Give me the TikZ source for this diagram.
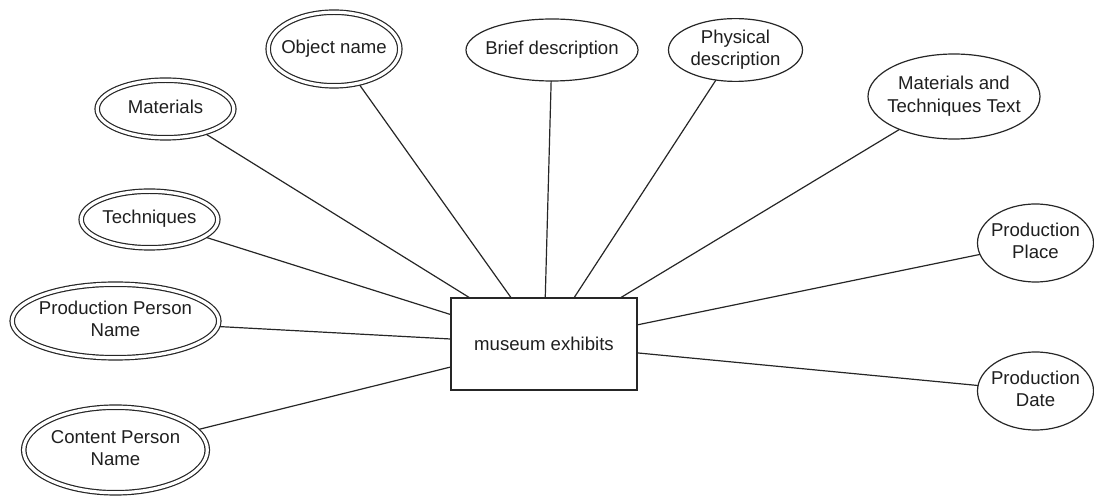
\documentclass[tikz,border=0pt]{standalone}
\usepackage{fontspec}
\setmainfont{Liberation Sans}
\usetikzlibrary{shapes.geometric}
% centred text that does not widen the shape around it
\newcommand{\ertext}[1]{\makebox[0pt]{\begin{tabular}{@{}c@{}}#1\end{tabular}}}
\begin{document}
\begin{tikzpicture}[x=0.5pt,y=-0.5pt,
  every node/.style={font=\fontsize{9.3}{11.1}\selectfont, text=black!88},
  entity/.style={draw=black!85, line width=0.6pt, rectangle, inner sep=0pt, outer sep=0pt,
    minimum width=93pt, minimum height=46pt},
  attr/.style={draw=black!85, line width=0.6pt, ellipse, inner sep=0pt, outer sep=0pt},
  multiattr/.style={attr, double=white, double distance=1.6pt, outer sep=1.1pt},
  link/.style={draw=black!85, line width=0.6pt}]
\useasboundingbox (0,0) rectangle (1094,497);

\node[entity] (ent) at (544,344) {museum exhibits};

% multivalued attributes
\node[multiattr, minimum width=65.8pt, minimum height=36.8pt] (objname) at (334,49) {\ertext{Object name}};
\node[multiattr, minimum width=68.3pt, minimum height=28.8pt] (materials) at (165.5,109) {\ertext{Materials}};
\node[multiattr, minimum width=68.3pt, minimum height=28.3pt] (techniques) at (149.5,219.5) {\ertext{Techniques}};
\node[multiattr, minimum width=103.3pt, minimum height=36.8pt] (ppname) at (115.5,321) {\ertext{Production Person\\Name}};
\node[multiattr, minimum width=91.8pt, minimum height=42.8pt] (cpname) at (115.5,450) {\ertext{Content Person\\Name}};

% single-valued attributes
\node[attr, minimum width=86pt, minimum height=31pt] (brief) at (552,50) {\ertext{Brief description}};
\node[attr, minimum width=67pt, minimum height=31pt] (physical) at (735.5,50) {\ertext{Physical\\description}};
\node[attr, minimum width=86pt, minimum height=42.5pt] (mtt) at (954,96.5) {\ertext{Materials and\\Techniques Text}};
\node[attr, minimum width=58pt, minimum height=39pt] (place) at (1035.5,243) {\ertext{Production\\Place}};
\node[attr, minimum width=58pt, minimum height=39pt] (date) at (1035.5,391) {\ertext{Production\\Date}};

% connectors
\foreach \a in {objname,materials,techniques,ppname,cpname,brief,physical,mtt,place,date}
  \draw[link] (\a) -- (ent);
\end{tikzpicture}
\end{document}
